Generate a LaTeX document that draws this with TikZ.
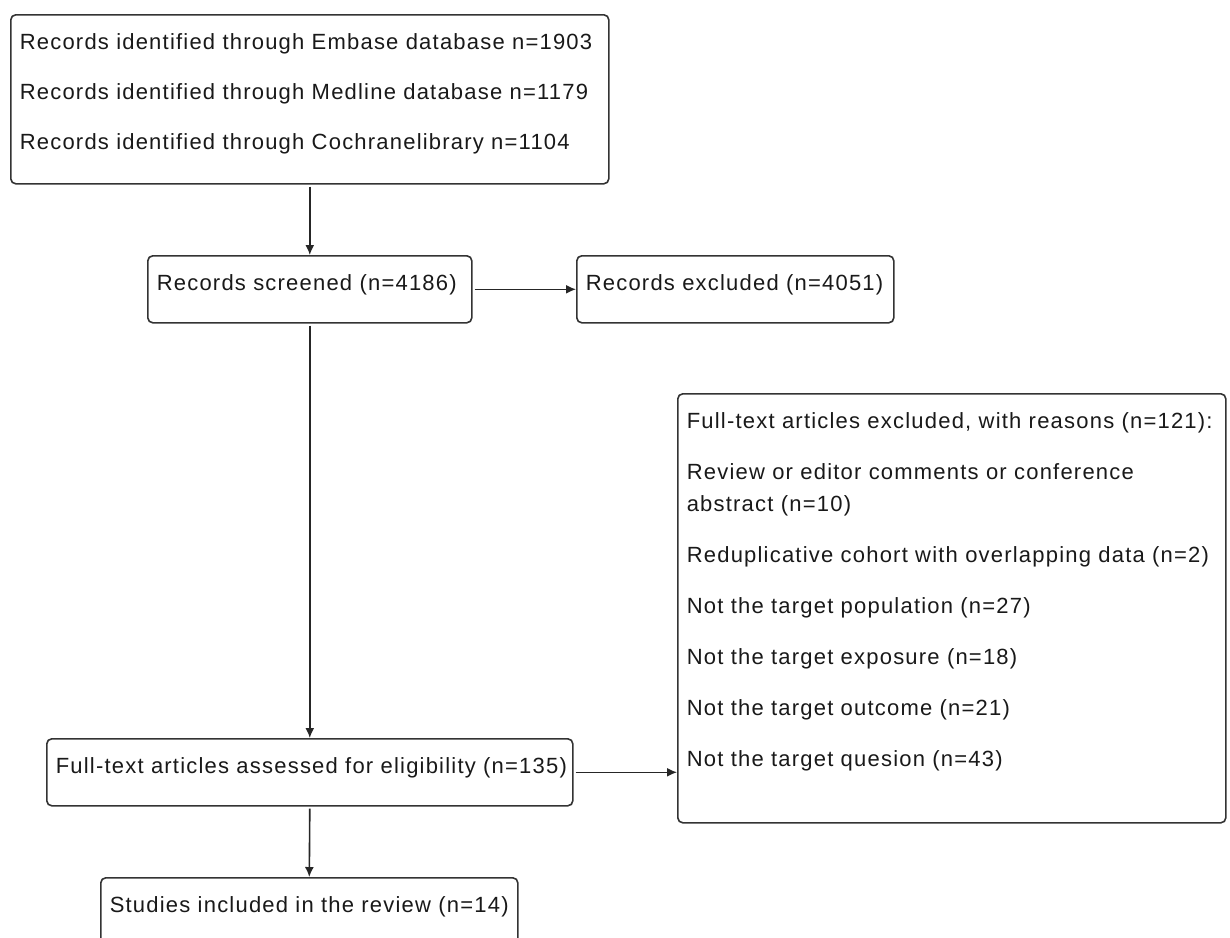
\documentclass[tikz,border=0pt]{standalone}
\usepackage{fontspec}
\setmainfont{Liberation Sans}[LetterSpace=5.5]
\usetikzlibrary{arrows.meta}
\newcommand{\boxcontent}[3]{\parbox[t][#2][t]{#1}{\raggedright\rule{0pt}{35pt}#3}}
\tikzset{
  flowbox/.style={draw=black!80, line width=1.6pt, rounded corners=5pt,
    inner xsep=9pt, inner ysep=0pt, anchor=north west, text=black!90,
    font=\fontsize{22}{50}\selectfont},
  listbox/.style={flowbox, font=\fontsize{22}{32}\selectfont},
  flowarrow/.style={draw=black!85, line width=1.6pt, shorten <=2pt,
    -{Latex[length=10pt,width=9pt]}}
}
\begin{document}
\begin{tikzpicture}[x=1pt,y=-1pt]
\useasboundingbox (0,0) rectangle (1230,937);
\clip (0,0) rectangle (1230,937);
\fill[white] (0,0) rectangle (1230,937);

\node[flowbox] (b1) at (10,14) {\boxcontent{580pt}{169pt}{%
  \mbox{Records identified through Embase database n=1903}\\
  \mbox{Records identified through Medline database n=1179}\\
  \mbox{Records identified through Cochranelibrary n=1104}}};

\node[flowbox] (b2) at (147,255) {\boxcontent{306pt}{67pt}{\mbox{Records screened (n=4186)}}};

\node[flowbox] (b3) at (576,255) {\boxcontent{299pt}{67pt}{\mbox{Records excluded (n=4051)}}};

\node[flowbox] (b4) at (46,738) {\boxcontent{508pt}{67pt}{\mbox{Full-text articles assessed for eligibility (n=135)}}};

\node[listbox] (b5) at (677,393) {\boxcontent{530pt}{429pt}{%
  \mbox{Full-text articles excluded, with reasons (n=121):}\\[19pt]
  \mbox{Review or editor comments or conference}\\
  \mbox{abstract (n=10)}\\[19pt]
  \mbox{Reduplicative cohort with overlapping data (n=2)}\\[19pt]
  \mbox{Not the target population (n=27)}\\[19pt]
  \mbox{Not the target exposure (n=18)}\\[19pt]
  \mbox{Not the target outcome (n=21)}\\[19pt]
  \mbox{Not the target quesion (n=43)}}};

\node[flowbox] (b6) at (100,877) {\boxcontent{399pt}{120pt}{\mbox{Studies included in the review (n=14)}}};

\draw[flowarrow] (b1.south) -- (b2.north);
\draw[flowarrow] (b2.east) -- (b3.west);
\draw[flowarrow] (b2.south) -- (b4.north);
\draw[flowarrow] (b4.east) -- (b4.east -| b5.west);
\draw[flowarrow] (b4.south) -- (b6.north);
\end{tikzpicture}
\end{document}
